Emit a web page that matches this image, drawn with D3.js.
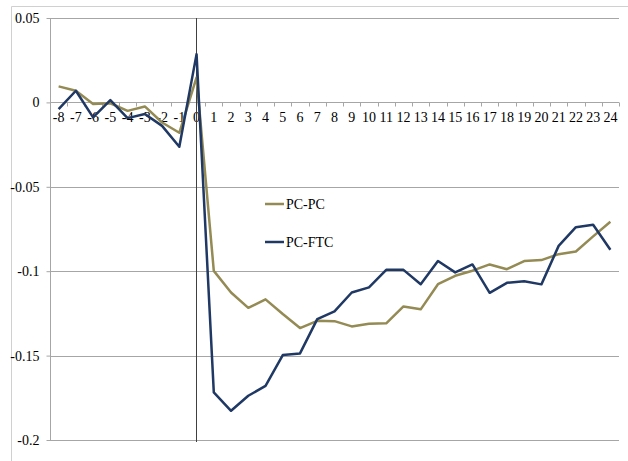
<!DOCTYPE html>
<html>
<head>
<meta charset="utf-8">
<script src="https://cdn.jsdelivr.net/npm/d3@7"></script>
<style>
  html, body { margin: 0; padding: 0; background: #fff; }
  svg { display: block; }
  text { font-family: "Liberation Serif", "Times New Roman", serif; font-size: 14px; fill: #000; }
</style>
</head>
<body>
<svg id="chart" width="628" height="461"></svg>
<script>
// Event time (periods relative to the event)
const periods = [-8,-7,-6,-5,-4,-3,-2,-1,0,1,2,3,4,5,6,7,8,9,10,11,12,13,14,15,16,17,18,19,20,21,22,23,24];

const pcPC = [0.0095,0.0069,-0.0010,-0.0005,-0.0050,-0.0024,-0.0119,-0.0180,0.0148,
  -0.0998,-0.1126,-0.1217,-0.1167,-0.1254,-0.1337,-0.1294,-0.1296,-0.1327,-0.1311,-0.1309,
  -0.1209,-0.1226,-0.1077,-0.1027,-0.0997,-0.0960,-0.0988,-0.0940,-0.0934,-0.0899,-0.0883,-0.0794,-0.0707];

const pcFTC = [-0.0040,0.0069,-0.0089,0.0014,-0.0093,-0.0069,-0.0139,-0.0263,0.0286,
  -0.1718,-0.1827,-0.1738,-0.1679,-0.1497,-0.1487,-0.1284,-0.1238,-0.1126,-0.1096,-0.0992,
  -0.0992,-0.1077,-0.0940,-0.1007,-0.0960,-0.1128,-0.1069,-0.1059,-0.1078,-0.0850,-0.0739,-0.0725,-0.0873];

const yTicks = [0.05, 0, -0.05, -0.1, -0.15, -0.2];
const yTickLabels = ["0.05", "0", "-0.05", "-0.1", "-0.15", "-0.2"];

const seriesNames = ["PC-PC", "PC-FTC"];
const seriesColors = ["#948A54", "#1F3864"];
const seriesValues = [pcPC, pcFTC];

const svg = d3.select("#chart");
const plot = { left: 50, right: 619, top: 18, bottom: 440 };

const x = d3.scaleBand().domain(periods).range([plot.left, plot.right]).padding(0);
const y = d3.scaleLinear().domain([-0.2, 0.05]).range([plot.bottom, plot.top]);
const cx = d => x(d) + x.bandwidth() / 2;

// chart area border (top and left edges)
svg.append("line").attr("x1", 11.5).attr("x2", 628).attr("y1", 6.5).attr("y2", 6.5)
  .attr("stroke", "#d0d0d0").attr("stroke-width", 1);
svg.append("line").attr("x1", 11.5).attr("x2", 11.5).attr("y1", 6.5).attr("y2", 461)
  .attr("stroke", "#d0d0d0").attr("stroke-width", 1);

// horizontal gridlines
svg.append("g").selectAll("line").data(yTicks).join("line")
  .attr("x1", plot.left).attr("x2", plot.right)
  .attr("y1", d => Math.round(y(d)) + 0.5).attr("y2", d => Math.round(y(d)) + 0.5)
  .attr("stroke", "#a6a6a6").attr("stroke-width", 1);

// value axis on the left with labels
const yAxis = d3.axisLeft(y).tickValues(yTicks)
  .tickFormat((d, i) => yTickLabels[i]).tickSize(4).tickPadding(7);
const gy = svg.append("g").attr("transform", `translate(${plot.left + 0.5},0)`).call(yAxis);
gy.select(".domain").attr("stroke", "#a6a6a6").attr("d", `M0,${plot.top}V${plot.bottom}`);
gy.selectAll(".tick line").attr("stroke", "#a6a6a6");
gy.selectAll(".tick text").attr("font-family", "Liberation Serif").attr("font-size", 14).attr("fill", "#000");

// category axis along zero
const y0 = Math.round(y(0)) + 0.5;
const gx = svg.append("g").attr("transform", `translate(0,${y0})`);
gx.append("line").attr("x1", plot.left).attr("x2", plot.right).attr("y1", 0).attr("y2", 0)
  .attr("stroke", "#a6a6a6");
const boundaries = periods.map(p => x(p)).concat([plot.right]);
gx.selectAll("line.tk").data(boundaries).join("line").attr("class", "tk")
  .attr("x1", d => Math.round(d) + 0.5).attr("x2", d => Math.round(d) + 0.5)
  .attr("y1", 0).attr("y2", 4).attr("stroke", "#a6a6a6");
gx.selectAll("text").data(periods).join("text")
  .attr("x", d => cx(d)).attr("y", 19)
  .attr("text-anchor", "middle")
  .text(d => d);

// vertical line at period 0
svg.append("line")
  .attr("x1", Math.round(cx(0)) - 0.5).attr("x2", Math.round(cx(0)) - 0.5)
  .attr("y1", plot.top).attr("y2", plot.bottom + 2)
  .attr("stroke", "#404040").attr("stroke-width", 1);

// series lines
const line = d3.line().x((d, i) => cx(periods[i])).y(d => y(d));
seriesValues.forEach((vals, k) => {
  svg.append("path").datum(vals)
    .attr("d", line)
    .attr("fill", "none")
    .attr("stroke", seriesColors[k])
    .attr("stroke-width", 2.5)
    .attr("stroke-linejoin", "round");
});

// legend
const legendY = [204, 242];
seriesNames.forEach((name, k) => {
  svg.append("line").attr("x1", 265).attr("x2", 284)
    .attr("y1", legendY[k]).attr("y2", legendY[k])
    .attr("stroke", seriesColors[k]).attr("stroke-width", 2.5);
  svg.append("text").attr("x", 286).attr("y", legendY[k] + 5).text(name);
});
</script>
</body>
</html>
